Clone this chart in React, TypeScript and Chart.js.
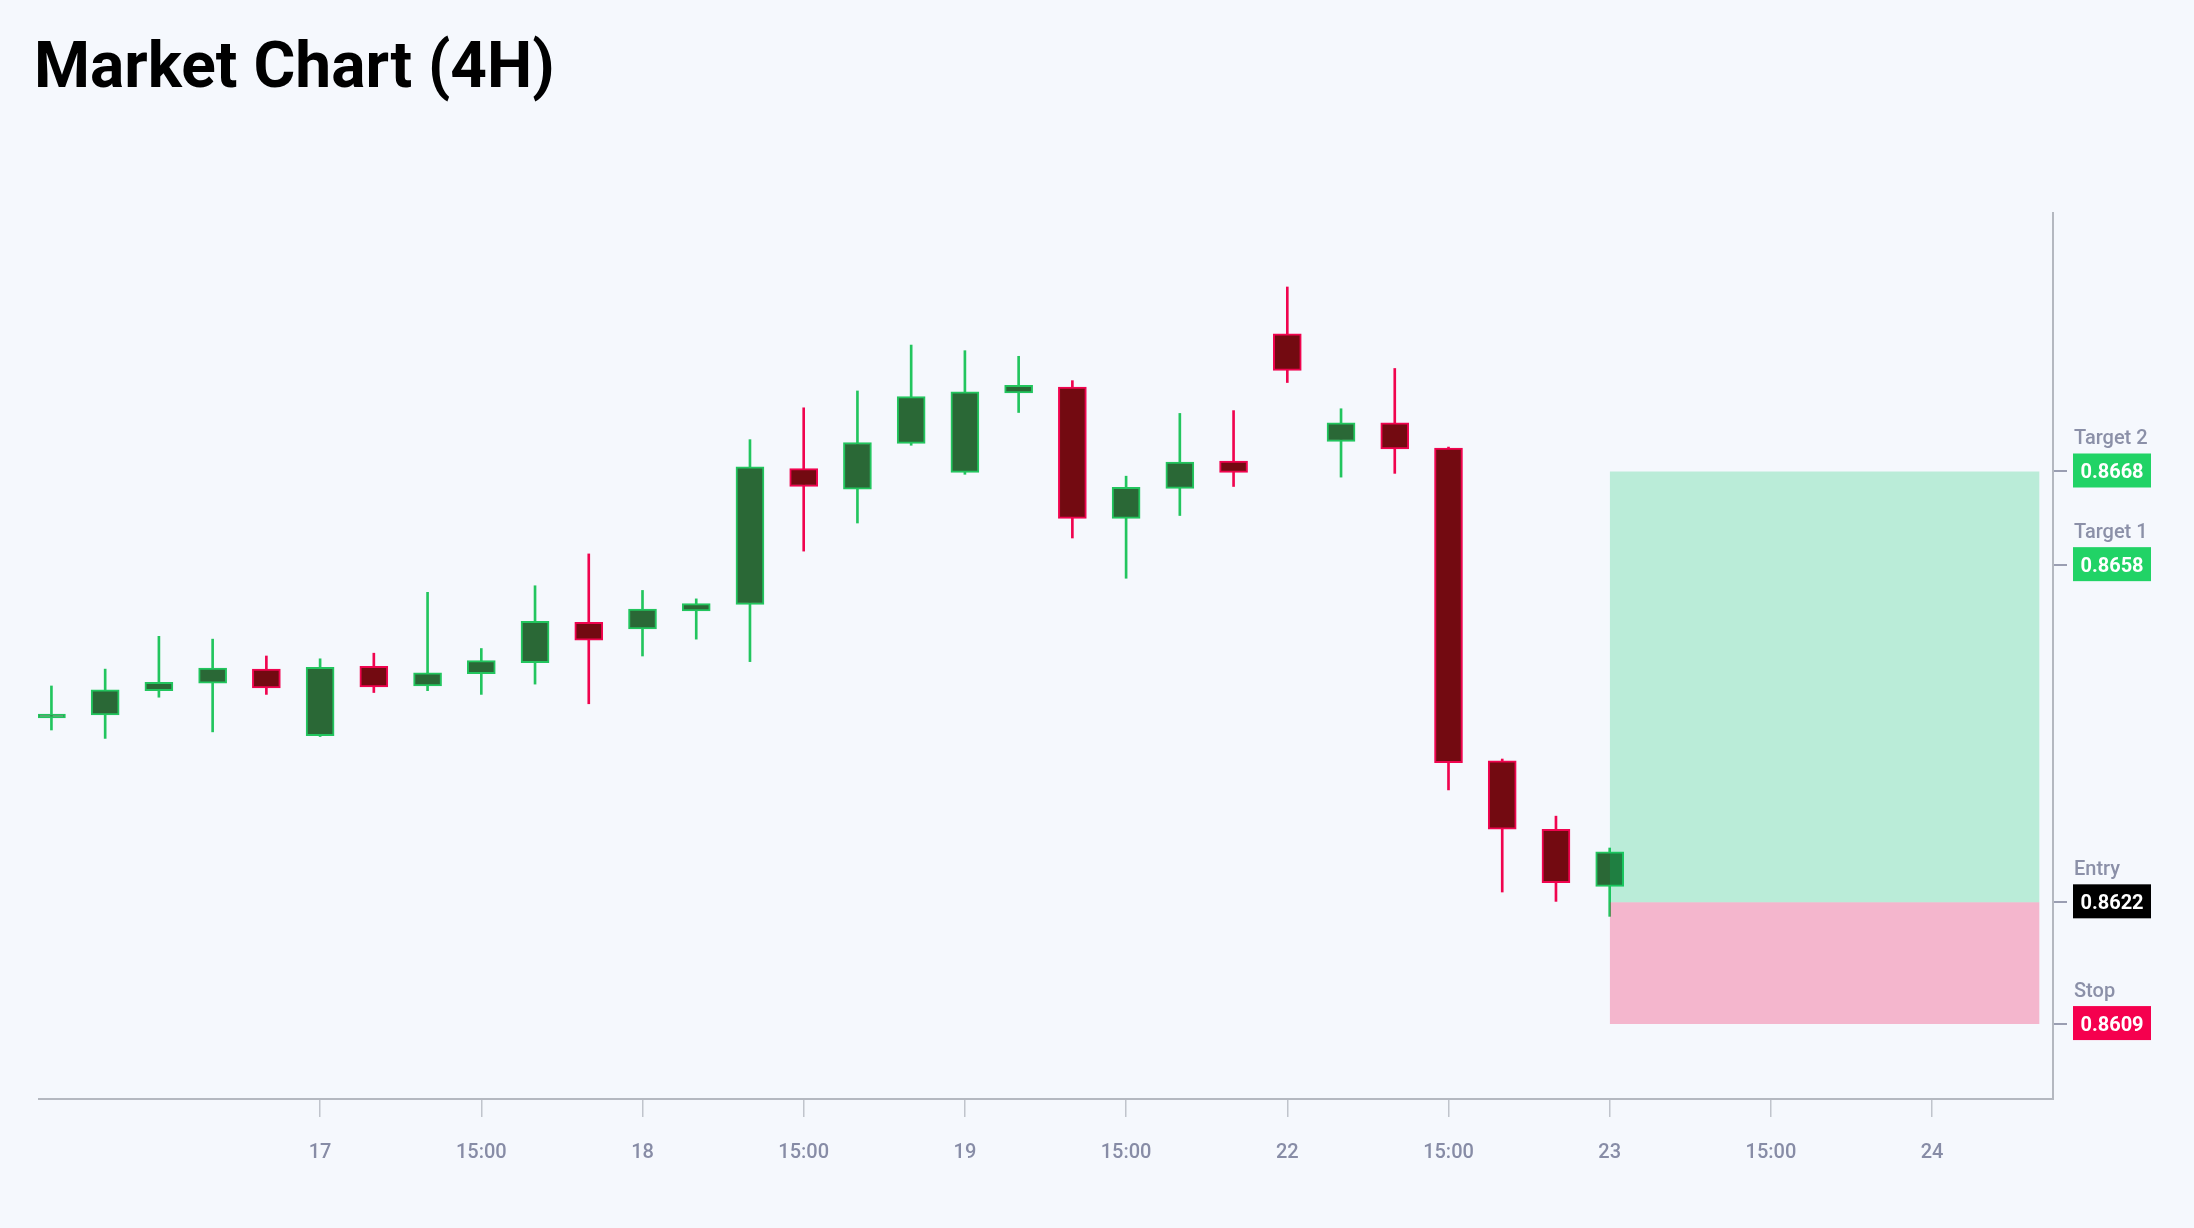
import { useEffect, useRef } from 'react';
import { Chart, registerables, type ChartConfiguration, type Plugin } from 'chart.js';

Chart.register(...registerables);

const BG = '#f5f8fd';

// 4H candles, one per index
const OPEN = [
    0.86417, 0.8642, 0.86446, 0.86454, 0.86469, 0.86398, 0.86472, 0.86451, 0.86464, 0.86476,
    0.86519, 0.86512, 0.86531, 0.86538, 0.86683, 0.86661, 0.8671, 0.86679, 0.86764, 0.8677,
    0.8663, 0.86662, 0.86691, 0.86827, 0.86712, 0.86732, 0.86705, 0.86371, 0.86298, 0.86237,
];
const HIGH = [
    0.86451, 0.86469, 0.86504, 0.86501, 0.86483, 0.8648, 0.86486, 0.86551, 0.86491, 0.86558,
    0.86592, 0.86553, 0.86544, 0.86714, 0.86748, 0.86766, 0.86815, 0.86809, 0.86803, 0.86777,
    0.86675, 0.86742, 0.86745, 0.86877, 0.86747, 0.8679, 0.86706, 0.86373, 0.86312, 0.86278,
];
const LOW = [
    0.86404, 0.86395, 0.86439, 0.86402, 0.86442, 0.86397, 0.86444, 0.86446, 0.86442, 0.86453,
    0.86432, 0.86483, 0.86501, 0.86477, 0.86595, 0.86625, 0.86708, 0.86677, 0.86743, 0.86609,
    0.86566, 0.86633, 0.86664, 0.86775, 0.86674, 0.86678, 0.8634, 0.86231, 0.86221, 0.86205,
];
const CLOSE = [
    0.86421, 0.86447, 0.86455, 0.8647, 0.86449, 0.86471, 0.8645, 0.86465, 0.86478, 0.8652,
    0.865, 0.86533, 0.86539, 0.86685, 0.86664, 0.86711, 0.8676, 0.86765, 0.86772, 0.8663,
    0.86663, 0.8669, 0.86679, 0.86788, 0.86732, 0.86704, 0.86369, 0.86298, 0.86241, 0.86274,
];

const X_TICKS = [5, 8, 11, 14, 17, 20, 23, 26, 29, 32, 35];
const X_TICK_LABELS = ['17', '15:00', '18', '15:00', '19', '15:00', '22', '15:00', '23', '15:00', '24'];

const LEVEL_NAMES = ['Target 2', 'Target 1', 'Entry', 'Stop'];
const LEVEL_VALUES = [0.8668, 0.8658, 0.8622, 0.8609];
const LEVEL_COLORS = ['#21d366', '#21d366', '#000000', '#f5004e'];

const TRADE_START = 29;
const TRADE_END = 37;

const levelLabels: Plugin = {
    id: 'levelLabels',
    afterDraw(chart) {
        const ctx = chart.ctx;
        const yScale = chart.scales.y;
        const left = chart.chartArea.right + 20;
        ctx.save();
        LEVEL_VALUES.forEach((v, i) => {
            const py = yScale.getPixelForValue(v);
            ctx.fillStyle = LEVEL_COLORS[i];
            ctx.fillRect(left, py - 18, 78, 34);
            ctx.fillStyle = '#ffffff';
            ctx.font = '700 20px Roboto';
            ctx.textAlign = 'center';
            ctx.textBaseline = 'alphabetic';
            ctx.fillText(v.toFixed(4), left + 39, py + 7);
            ctx.fillStyle = '#8b90a8';
            ctx.font = '500 20px Roboto';
            ctx.textAlign = 'left';
            ctx.fillText(LEVEL_NAMES[i], left + 1, py - 27);
        });
        ctx.restore();
    },
};

function CandleChart() {
    const chartRef = useRef<HTMLCanvasElement>(null);
    const chartInstance = useRef<Chart | null>(null);

    useEffect(() => {
        if (!chartRef.current) return;
        if (chartInstance.current) chartInstance.current.destroy();
        const ctx = chartRef.current.getContext('2d');
        if (!ctx) return;

        const idx = OPEN.map((_, i) => i);
        const up = idx.map((i) => CLOSE[i] >= OPEN[i]);
        const target2 = LEVEL_VALUES[0];
        const entry = LEVEL_VALUES[2];
        const stop = LEVEL_VALUES[3];

        const config: ChartConfiguration = {
            type: 'bar',
            data: {
                datasets: [
                    {
                        type: 'line',
                        label: 'reward',
                        data: [
                            { x: TRADE_START, y: target2 },
                            { x: TRADE_END, y: target2 },
                        ],
                        fill: { value: entry },
                        backgroundColor: 'rgba(0, 200, 100, 0.24)',
                        borderColor: 'transparent',
                        borderWidth: 0,
                        pointRadius: 0,
                        order: 0,
                    },
                    {
                        type: 'line',
                        label: 'risk',
                        data: [
                            { x: TRADE_START, y: stop },
                            { x: TRADE_END, y: stop },
                        ],
                        fill: { value: entry },
                        backgroundColor: 'rgba(240, 20, 90, 0.29)',
                        borderColor: 'transparent',
                        borderWidth: 0,
                        pointRadius: 0,
                        order: 0,
                    },
                    {
                        type: 'bar',
                        label: 'body',
                        data: idx.map((i) => ({
                            x: i,
                            y: [Math.min(OPEN[i], CLOSE[i]), Math.max(OPEN[i], CLOSE[i])],
                        })),
                        backgroundColor: up.map((u) => (u ? '#2a6836' : '#730a11')),
                        borderColor: up.map((u) => (u ? '#22c55e' : '#f0044f')),
                        borderWidth: 2,
                        borderSkipped: false,
                        barThickness: 28,
                        grouped: false,
                        order: 1,
                    },
                    {
                        type: 'bar',
                        label: 'wick',
                        data: idx.map((i) => ({ x: i, y: [LOW[i], HIGH[i]] })),
                        backgroundColor: up.map((u) => (u ? '#22c55e' : '#f0044f')),
                        borderWidth: 0,
                        barThickness: 2,
                        grouped: false,
                        order: 2,
                    },
                ] as any,
            },
            options: {
                animation: false,
                responsive: true,
                maintainAspectRatio: false,
                layout: { padding: { top: 115, left: 0, right: 0, bottom: 0 } },
                plugins: {
                    legend: { display: false },
                    tooltip: { enabled: false },
                },
                scales: {
                    x: {
                        type: 'linear',
                        min: -0.25,
                        max: 37.25,
                        offset: false,
                        afterBuildTicks: (s: any) => {
                            s.ticks = X_TICKS.map((v) => ({ value: v }));
                        },
                        afterFit: (s: any) => {
                            s.height = 101;
                        },
                        grid: {
                            offset: false,
                            drawOnChartArea: false,
                            drawTicks: true,
                            tickLength: 18,
                            color: '#c0c4cc',
                            lineWidth: 1.5,
                        },
                        border: { display: true, color: '#b4b8c0', width: 2 },
                        ticks: {
                            autoSkip: false,
                            maxRotation: 0,
                            padding: 24,
                            color: '#878ca6',
                            font: { family: 'Roboto', size: 20, weight: 500 },
                            callback: (v: any) => {
                                const k = X_TICKS.indexOf(Number(v));
                                return k >= 0 ? X_TICK_LABELS[k] : '';
                            },
                        },
                    },
                    y: {
                        type: 'linear',
                        position: 'right',
                        min: 0.8601,
                        max: 0.86956,
                        afterBuildTicks: (s: any) => {
                            s.ticks = LEVEL_VALUES.map((v) => ({ value: v }));
                        },
                        afterFit: (s: any) => {
                            s.width = 103;
                        },
                        grid: {
                            drawOnChartArea: false,
                            drawTicks: true,
                            tickLength: 14,
                            color: '#9a9eb2',
                            lineWidth: 2,
                        },
                        border: { display: true, color: '#b4b8c0', width: 2 },
                        ticks: { display: false },
                    },
                } as any,
            },
            plugins: [levelLabels],
        };

        chartInstance.current = new Chart(ctx, config);

        return () => {
            if (chartInstance.current) {
                chartInstance.current.destroy();
                chartInstance.current = null;
            }
        };
    }, []);

    return (
        <div style={{ position: 'relative', height: 1102 }}>
            <canvas ref={chartRef}></canvas>
        </div>
    );
}

export default function App() {
    useEffect(() => {
        document.body.style.background = BG;
    }, []);

    return (
        <div style={{ padding: '26px 30px 0 30px', fontFamily: 'Roboto, sans-serif' }}>
            <div
                style={{
                    fontSize: 64,
                    fontWeight: 700,
                    lineHeight: '64px',
                    height: 64,
                    marginLeft: -4,
                    color: '#000',
                }}
            >
                Market Chart (4H)
            </div>
            <CandleChart />
        </div>
    );
}
